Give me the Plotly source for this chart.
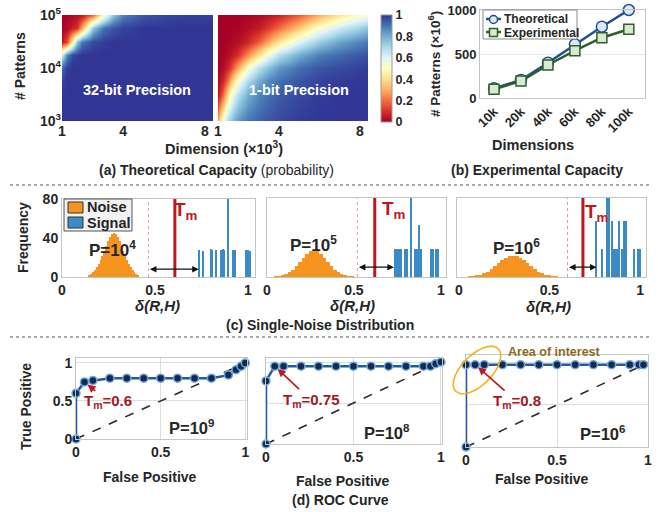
import numpy as np
import plotly.graph_objects as go

W, H = 658, 512
FONT = "Liberation Sans, Arial, sans-serif"
DARK = "#262626"

# ---------------- data ----------------
# (a) theoretical capacity heatmaps: probability vs dimension (x10^3) and log10(#patterns)
hm_dims = [1, 1.25, 1.5, 1.75, 2, 2.5, 3, 3.5, 4, 5, 6, 7, 8.5]
hm_logp = [3.0, 3.5, 3.75, 4.0, 4.25, 4.5, 4.75, 5.0]
cap_32bit = [
    [1, 1, 1, 1, 1, 1, 1, 1, 1, 1, 1, 1, 1],
    [1, 1, 1, 1, 1, 1, 1, 1, 1, 1, 1, 1, 1],
    [0.98, 1, 1, 1, 1, 1, 1, 1, 1, 1, 1, 1, 1],
    [0.92, 0.99, 1, 1, 1, 1, 1, 1, 1, 1, 1, 1, 1],
    [0.65, 0.88, 0.97, 0.99, 1, 1, 1, 1, 1, 1, 1, 1, 1],
    [0.05, 0.15, 0.45, 0.75, 0.9, 0.97, 0.99, 1, 1, 1, 1, 1, 1],
    [0.01, 0.03, 0.06, 0.1, 0.3, 0.75, 0.9, 0.95, 0.98, 1, 1, 1, 1],
    [0, 0.01, 0.02, 0.03, 0.05, 0.2, 0.5, 0.75, 0.88, 0.95, 0.97, 0.98, 0.98],
]
cap_1bit = [
    [0.3, 0.55, 0.7, 0.78, 0.84, 0.9, 0.93, 0.95, 0.97, 0.99, 1, 1, 1],
    [0.05, 0.2, 0.42, 0.58, 0.68, 0.8, 0.87, 0.91, 0.94, 0.97, 0.99, 1, 1],
    [0.02, 0.08, 0.22, 0.4, 0.53, 0.7, 0.8, 0.87, 0.91, 0.95, 0.98, 0.99, 1],
    [0, 0.03, 0.08, 0.18, 0.3, 0.52, 0.68, 0.77, 0.84, 0.91, 0.95, 0.97, 0.99],
    [0, 0.01, 0.03, 0.06, 0.1, 0.25, 0.42, 0.57, 0.68, 0.8, 0.88, 0.92, 0.96],
    [0, 0, 0.01, 0.02, 0.03, 0.08, 0.18, 0.3, 0.42, 0.6, 0.73, 0.82, 0.9],
    [0, 0, 0, 0.01, 0.01, 0.03, 0.06, 0.12, 0.2, 0.35, 0.52, 0.64, 0.76],
    [0, 0, 0, 0, 0, 0.01, 0.02, 0.04, 0.07, 0.17, 0.3, 0.42, 0.55],
]
hm_xticks = [1, 4, 8]
hm_yticks = [3, 4, 5]

# (b) experimental capacity
cap_dims = ["10k", "20k", "40k", "60k", "80k", "100k"]
cap_theoretical = [110, 205, 401, 610, 810, 1000]
cap_experimental = [99, 193, 375, 538, 685, 781]
cap_series = ["Theoretical", "Experimental"]

# (c) single-noise distributions
noise1_x = [0.15, 0.16, 0.17, 0.18, 0.19, 0.20, 0.21, 0.22, 0.23, 0.24, 0.25, 0.26, 0.27, 0.28,
            0.29, 0.30, 0.31, 0.32, 0.33, 0.34, 0.35, 0.36, 0.37, 0.38, 0.39, 0.40, 0.41]
noise1_y = [2, 3, 5, 7, 10, 13, 17, 22, 27, 32, 37, 41, 44, 45,
            44, 41, 37, 32, 27, 22, 17, 13, 10, 7, 5, 3, 2]
signal1_x = [0.74, 0.76, 0.80, 0.81, 0.83, 0.855, 0.865, 0.875, 0.893, 0.92, 0.93, 0.99, 1.0, 1.01]
signal1_y = [28, 27, 29, 28, 28, 28, 29, 28, 80, 28, 28, 28, 28, 27]

noise2_x = [0.05, 0.07, 0.09, 0.11, 0.13, 0.15, 0.17, 0.19, 0.21, 0.23, 0.25, 0.27,
            0.29, 0.31, 0.33, 0.35, 0.37, 0.39, 0.41, 0.43, 0.45, 0.47, 0.49]
noise2_y = [0.4, 0.8, 1.5, 2.8, 4.7, 7.5, 11.1, 15.3, 19.6, 23.4, 26.1, 27,
            26.1, 23.4, 19.6, 15.3, 11.1, 7.5, 4.7, 2.8, 1.5, 0.8, 0.4]
signal2_x = [0.74, 0.75, 0.76, 0.77, 0.795, 0.805, 0.83, 0.855, 0.865, 0.875, 0.885,
             0.945, 0.955, 0.975, 0.985]
signal2_y = [28, 28, 28, 28, 28, 28, 80, 28, 28, 53, 28, 28, 28, 28, 28]

noise3_x = [0.06, 0.08, 0.10, 0.12, 0.14, 0.16, 0.18, 0.20, 0.22, 0.24, 0.26, 0.28, 0.30,
            0.32, 0.34, 0.36, 0.38, 0.40, 0.42, 0.44, 0.46, 0.48, 0.50, 0.52, 0.54]
noise3_y = [0.4, 0.8, 1.4, 2.3, 3.7, 5.5, 7.9, 10.8, 13.8, 16.8, 19.2, 20.9, 21.5,
            20.9, 19.2, 16.8, 13.8, 10.8, 7.9, 5.5, 3.7, 2.3, 1.4, 0.8, 0.4]
signal3_x = [0.76, 0.79, 0.82, 0.83, 0.845, 0.855, 0.865, 0.875, 0.885, 0.90, 0.915, 0.925,
             0.97, 0.99, 1.0]
signal3_y = [57, 28, 80, 80, 57, 28, 28, 28, 57, 28, 57, 57, 28, 28, 28]
hist_series = ["Noise", "Signal"]

hist_tm = [0.607, 0.62, 0.685]          # thick red threshold line
hist_gap_start = [0.465, 0.52, 0.60]    # dotted line / arrow start
hist_gap_end = [0.735, 0.73, 0.76]      # arrow end
hist_arrow_y = [8, 10, 10]
hist_labels = ["P=10<sup>4</sup>", "P=10<sup>5</sup>", "P=10<sup>6</sup>"]

# (d) ROC curves
roc1_fp = [0, 0, 0.05, 0.1, 0.2, 0.3, 0.4, 0.5, 0.6, 0.7, 0.8, 0.9, 0.945, 0.975, 1.0]
roc1_tp = [0, 0.6, 0.75, 0.77, 0.8, 0.8, 0.8, 0.8, 0.8, 0.8, 0.8, 0.84, 0.91, 0.955, 1.0]
roc2_fp = [0, 0, 0.05, 0.1, 0.2, 0.3, 0.4, 0.5, 0.6, 0.7, 0.8, 0.9, 0.94, 0.97, 1.0]
roc2_tp = [0, 0.77, 0.95, 0.95, 0.95, 0.95, 0.95, 0.95, 0.95, 0.95, 0.95, 0.95, 0.95, 0.98, 1.0]
roc3_fp = [0, 0, 0.05, 0.1, 0.2, 0.3, 0.4, 0.5, 0.6, 0.7, 0.8, 0.9, 0.95, 0.975]
roc3_tp = [0, 0.98, 0.98, 0.98, 0.98, 0.98, 0.98, 0.98, 0.98, 0.98, 0.98, 0.98, 0.98, 0.98]
roc_tm_labels = ["T<sub>m</sub>=0.6", "T<sub>m</sub>=0.75", "T<sub>m</sub>=0.8"]
roc_tm_points = [(0.05, 0.75), (0.05, 0.95), (0.05, 0.98)]
roc_p_labels = ["P=10<sup>9</sup>", "P=10<sup>8</sup>", "P=10<sup>6</sup>"]
diag = [0, 1]

# ---------------- helpers ----------------
def xd(a, b):
    return [a / W, b / W]

def yd(top, bottom):
    return [1 - bottom / H, 1 - top / H]

def px(x):
    return x / W

def py(y):
    return 1 - y / H

def tfont(size=14, color=DARK, bold=True):
    return dict(family=FONT, size=size, color=color, weight="bold" if bold else "normal")

annotations = []
shapes = []

def ann(text, x, y, size=14, color=DARK, bold=True, angle=0, italic=False, xanchor="center"):
    annotations.append(dict(
        text=text, x=px(x), y=py(y), xref="paper", yref="paper",
        xanchor=xanchor, yanchor="middle", showarrow=False, textangle=angle,
        font=dict(family=FONT, size=size, color=color,
                  weight="bold" if bold else "normal",
                  style="italic" if italic else "normal")))

def pshape(kind, x0, y0, x1, y1, line_color, fill=None, width=1.0, dash="solid"):
    d = dict(type=kind, xref="paper", yref="paper", x0=px(x0), x1=px(x1), y0=py(y0), y1=py(y1),
             line=dict(color=line_color, width=width, dash=dash))
    if fill is not None:
        d["fillcolor"] = fill
    shapes.append(d)

rdylbu = [[0.0, "rgb(165,0,38)"], [0.1, "rgb(215,48,39)"], [0.2, "rgb(244,109,67)"],
          [0.3, "rgb(253,174,97)"], [0.4, "rgb(254,224,144)"], [0.5, "rgb(255,255,191)"],
          [0.6, "rgb(224,243,248)"], [0.7, "rgb(171,217,233)"], [0.8, "rgb(116,173,209)"],
          [0.9, "rgb(69,117,180)"], [1.0, "rgb(49,54,149)"]]

fig = go.Figure()

# ---------------- (a) heatmaps ----------------
fig.add_trace(go.Heatmap(
    x=hm_dims, y=hm_logp, z=cap_32bit, zmin=0, zmax=1, zsmooth="best",
    colorscale=rdylbu, xaxis="x", yaxis="y", hoverinfo="skip",
    colorbar=dict(x=381 / W, xanchor="left", y=py(15), yanchor="top",
                  len=107 / H, lenmode="fraction", thickness=11, thicknessmode="pixels",
                  outlinewidth=1, outlinecolor="#9a9a9a", xpad=0, ypad=0,
                  tickvals=[0, 0.2, 0.4, 0.6, 0.8, 1], ticktext=["0", "0.2", "0.4", "0.6", "0.8", "1"],
                  ticks="", ticklen=0, tickfont=tfont(12.5))))
fig.add_trace(go.Heatmap(
    x=hm_dims, y=hm_logp, z=cap_1bit, zmin=0, zmax=1, zsmooth="best",
    colorscale=rdylbu, xaxis="x2", yaxis="y2", showscale=False, hoverinfo="skip"))

# ---------------- (b) line chart ----------------
THEO_C, THEO_F = "#1f4f8f", "#dce8f5"
EXP_C, EXP_F = "#2f5e2a", "#d9ead3"
fig.add_trace(go.Scatter(
    x=cap_dims, y=cap_theoretical, name=cap_series[0], mode="lines+markers",
    xaxis="x3", yaxis="y3", showlegend=False, cliponaxis=False,
    line=dict(color=THEO_C, width=2.5),
    marker=dict(symbol="circle", size=11, color=THEO_F, line=dict(color=THEO_C, width=1.5))))
fig.add_trace(go.Scatter(
    x=cap_dims, y=cap_experimental, name=cap_series[1], mode="lines+markers",
    xaxis="x3", yaxis="y3", showlegend=False, cliponaxis=False,
    line=dict(color=EXP_C, width=2.5),
    marker=dict(symbol="square", size=10, color=EXP_F, line=dict(color=EXP_C, width=1.5))))

# ---------------- (c) histograms ----------------
ORANGE = "#f7941f"
BLUE = "#3d8bc6"
hist_sets = [(noise1_x, noise1_y, 0.01, signal1_x, signal1_y),
             (noise2_x, noise2_y, 0.02, signal2_x, signal2_y),
             (noise3_x, noise3_y, 0.02, signal3_x, signal3_y)]
for i, (nx, ny, nw, sx, sy) in enumerate(hist_sets):
    xa, ya = "x%d" % (4 + i), "y%d" % (4 + i)
    fig.add_trace(go.Bar(x=nx, y=ny, width=nw, name=hist_series[0],
                         marker=dict(color=ORANGE, line=dict(width=0)),
                         xaxis=xa, yaxis=ya, showlegend=False, hoverinfo="skip"))
    fig.add_trace(go.Bar(x=sx, y=sy, width=0.008, name=hist_series[1],
                         marker=dict(color=BLUE, line=dict(width=0)),
                         xaxis=xa, yaxis=ya, showlegend=False, hoverinfo="skip"))

# ---------------- (d) ROC ----------------
roc_sets = [(roc1_fp, roc1_tp), (roc2_fp, roc2_tp), (roc3_fp, roc3_tp)]
for i, (fp, tp) in enumerate(roc_sets):
    xa, ya = "x%d" % (7 + i), "y%d" % (7 + i)
    fig.add_trace(go.Scatter(x=diag, y=diag, mode="lines", xaxis=xa, yaxis=ya, showlegend=False,
                             line=dict(color="#2b2b2b", width=1.6, dash="dash"), hoverinfo="skip"))
    fig.add_trace(go.Scatter(x=fp, y=tp, mode="lines+markers", xaxis=xa, yaxis=ya, showlegend=False,
                             cliponaxis=False, line=dict(color="#1f5aa6", width=2.5),
                             marker=dict(size=8, color="#152a52", line=dict(color="#6fa8dc", width=1.5)),
                             hoverinfo="skip"))

# ---------------- axes ----------------
layout_axes = {}
frame = dict(showline=True, mirror=True, linecolor="#c4c4c4", linewidth=1)
noframe = dict(showline=False, zeroline=False, showgrid=False)
notick = dict(ticks="", ticklen=0, automargin=False)

for k, (a, b) in zip(["", "2"], [(62, 213), (218, 368)]):
    layout_axes["xaxis" + k] = dict(domain=xd(a, b), anchor="y" + k, range=[1, 8.4], tickvals=hm_xticks,
                                    ticktext=[str(t) for t in hm_xticks], tickfont=tfont(14),
                                    **notick, **noframe)
    layout_axes["yaxis" + k] = dict(domain=yd(15, 121), anchor="x" + k, range=[3, 5], tickvals=hm_yticks,
                                    ticktext=["10<sup>%d</sup>" % t for t in hm_yticks],
                                    showticklabels=(k == ""), tickfont=tfont(14), **notick, **noframe)

layout_axes["xaxis3"] = dict(domain=xd(480, 645), anchor="y3", type="category", range=[-0.52, 5.6],
                             tickangle=-45, tickfont=tfont(13), showgrid=False, zeroline=False,
                             **notick, **frame)
layout_axes["yaxis3"] = dict(domain=yd(10, 98), anchor="x3", range=[0, 1000], tickvals=[0, 500, 1000],
                             tickfont=tfont(13), showgrid=True, gridcolor="#e8e8e8",
                             zeroline=False, **notick, **frame)

hist_dom = [((62, 255), (199, 277), [0, 1.038]),
            ((267, 446), (198, 277), [0, 1.03]),
            ((457, 646), (198, 277), [-0.01, 1.033])]
for i, ((a, b), (t, bt), rng) in enumerate(hist_dom):
    k = str(4 + i)
    layout_axes["xaxis" + k] = dict(domain=xd(a, b), anchor="y" + k, range=rng, tickvals=[0, 0.5, 1],
                                    ticktext=["0", "0.5", "1"], tickfont=tfont(14),
                                    showgrid=False, zeroline=False, **notick, **frame)
    layout_axes["yaxis" + k] = dict(domain=yd(t, bt), anchor="x" + k, range=[0, 80], tickvals=[0, 40, 80],
                                    showticklabels=(i == 0), tickfont=tfont(14),
                                    showgrid=False, zeroline=False, **notick, **frame)

roc_dom = [((76, 247), (358, 439), [0, 1.01], [0, 1.065]),
           ((266, 442), (358, 444), [0, 1.006], [0, 1.05]),
           ((466, 648), (355, 447), [0, 1.0], [0, 1.095])]
for i, ((a, b), (t, bt), xr, yr) in enumerate(roc_dom):
    k = str(7 + i)
    layout_axes["xaxis" + k] = dict(domain=xd(a, b), anchor="y" + k, range=xr, tickvals=[0, 0.5, 1],
                                    ticktext=["0", "0.5", "1"], tickfont=tfont(14),
                                    showgrid=True, gridcolor="#dedede", zeroline=False, **notick, **frame)
    layout_axes["yaxis" + k] = dict(domain=yd(t, bt), anchor="x" + k, range=yr, tickvals=[0, 0.5, 1],
                                    ticktext=["0", "0.5", "1"], showticklabels=(i == 0),
                                    tickfont=tfont(14),
                                    showgrid=True, gridcolor="#dedede", zeroline=False, **notick, **frame)

# ---------------- shapes ----------------
for i in range(3):
    xa, ya = "x%d" % (4 + i), "y%d domain" % (4 + i)
    shapes.append(dict(type="line", xref=xa, yref=ya, x0=hist_gap_start[i], x1=hist_gap_start[i], y0=0, y1=1,
                       line=dict(color="#e79a8e", width=1, dash="dot")))
    shapes.append(dict(type="line", xref=xa, yref=ya, x0=hist_tm[i], x1=hist_tm[i], y0=0, y1=1,
                       line=dict(color="#c0171e", width=3)))

# separators
for yy in (185, 337):
    pshape("line", 10, yy, 652, yy, "#555555", width=1, dash="dot")

# ellipse "area of interest"
t = np.linspace(0, 2 * np.pi, 60)
ang = np.deg2rad(45)
ex = 477 + 30 * np.cos(t) * np.cos(ang) + 15 * np.sin(t) * np.sin(ang)
ey = 370 - 30 * np.cos(t) * np.sin(ang) + 15 * np.sin(t) * np.cos(ang)
path = "M " + " L ".join("%.5f,%.5f" % (px(a), py(b)) for a, b in zip(ex, ey)) + " Z"
shapes.append(dict(type="path", xref="paper", yref="paper", path=path,
                   line=dict(color="#f2b21f", width=1.6)))

# legend for (b): compact boxed key
pshape("rect", 483, 10, 577, 39, "#8a8a8a", fill="white", width=1)
pshape("line", 486, 19, 501, 19, THEO_C, width=2.5)
pshape("circle", 489.5, 15.5, 497.5, 23.5, THEO_C, fill=THEO_F, width=1.5)
pshape("line", 486, 32, 501, 32, EXP_C, width=2.5)
pshape("rect", 489.5, 28.5, 497.5, 36.5, EXP_C, fill=EXP_F, width=1.5)
ann(cap_series[0], 502, 19, size=12, xanchor="left")
ann(cap_series[1], 502, 32.5, size=12, xanchor="left")

# legend for (c): compact boxed key
pshape("rect", 64, 199, 132, 231, "#555555", fill="#f2f2f2", width=1)
pshape("rect", 68, 202, 83, 213, "#333333", fill=ORANGE, width=1)
pshape("rect", 68, 217, 83, 228, "#333333", fill=BLUE, width=1)
ann(hist_series[0], 85, 207, size=14.5, xanchor="left")
ann(hist_series[1], 85, 222.5, size=14.5, xanchor="left")

# ---------------- annotations ----------------
ann("32-bit Precision", 137, 90, size=14.5, color="white")
ann("1-bit Precision", 299, 90, size=14.5, color="white")
ann("# Patterns", 20, 66, size=14, angle=-90)
ann("Dimension (×10<sup>3</sup>)", 224, 148, size=14.5)
ann("<b>(a) Theoretical Capacity</b> (probability)", 217, 170, size=14, bold=False)
ann("# Patterns (×10<sup>6</sup>)", 434, 64, size=13.5, angle=-90)
ann("Dimensions", 533, 145, size=14.5)
ann("(b) Experimental Capacity", 537, 170, size=14)
ann("Frequency", 23, 238, size=14, angle=-90)
for cx, cy in [(157, 305), (352, 305), (548, 306)]:
    ann("δ(R,H)", cx, cy, size=15, italic=True)
ann("(c) Single-Noise Distribution", 320, 325, size=14)
tm_pos = [(0.665, 68), (0.725, 68), (0.762, 65)]
p_pos = [(0.274, 29), (0.27, 33), (0.32, 30)]
for i in range(3):
    xa, ya = "x%d" % (4 + i), "y%d" % (4 + i)
    annotations.append(dict(text="T<sub>m</sub>", x=tm_pos[i][0], y=tm_pos[i][1], xref=xa, yref=ya,
                            showarrow=False, font=tfont(19, "#c0171e")))
    annotations.append(dict(text=hist_labels[i], x=p_pos[i][0], y=p_pos[i][1], xref=xa, yref=ya,
                            showarrow=False, font=tfont(17)))
    annotations.append(dict(text="", x=hist_gap_end[i], y=hist_arrow_y[i], ax=hist_gap_start[i],
                            ay=hist_arrow_y[i], xref=xa, yref=ya, axref=xa, ayref=ya, showarrow=True,
                            arrowside="end+start", arrowhead=2, arrowsize=1, arrowwidth=1.3,
                            arrowcolor="#111111"))
ann("True Positive", 26, 407, size=14, angle=-90)
for cx, cy in [(150, 477), (343, 481), (542, 479)]:
    ann("False Positive", cx, cy, size=14)
ann("(d) ROC Curve", 341, 500, size=14)
ann("Area of interest", 554, 352, size=12.5, color="#8c6c1c")
tm_off = [(24, 20), (36, 34), (42, 37)]
pp_pos = [(0.68, 0.16), (0.69, 0.15), (0.75, 0.17)]
for i in range(3):
    xa, ya = "x%d" % (7 + i), "y%d" % (7 + i)
    annotations.append(dict(text=roc_tm_labels[i], x=roc_tm_points[i][0], y=roc_tm_points[i][1],
                            xref=xa, yref=ya, ax=tm_off[i][0], ay=tm_off[i][1], showarrow=True,
                            arrowhead=2, arrowsize=1, arrowwidth=1.6, arrowcolor="#c0171e", standoff=4,
                            font=tfont(15, "#a3191f")))
    annotations.append(dict(text=roc_p_labels[i], x=pp_pos[i][0], y=pp_pos[i][1], xref=xa, yref=ya,
                            showarrow=False, font=tfont(16.5)))

fig.update_layout(
    width=W, height=H, autosize=False,
    margin=dict(l=0, r=0, t=0, b=0, pad=0, autoexpand=False),
    paper_bgcolor="white", plot_bgcolor="white",
    barmode="overlay", bargap=0, showlegend=False,
    font=dict(family=FONT, color=DARK),
    shapes=shapes, annotations=annotations,
    **layout_axes,
)

fig.write_html("out.html", config={"displayModeBar": False},
               post_script="document.body.style.margin='0px';")
